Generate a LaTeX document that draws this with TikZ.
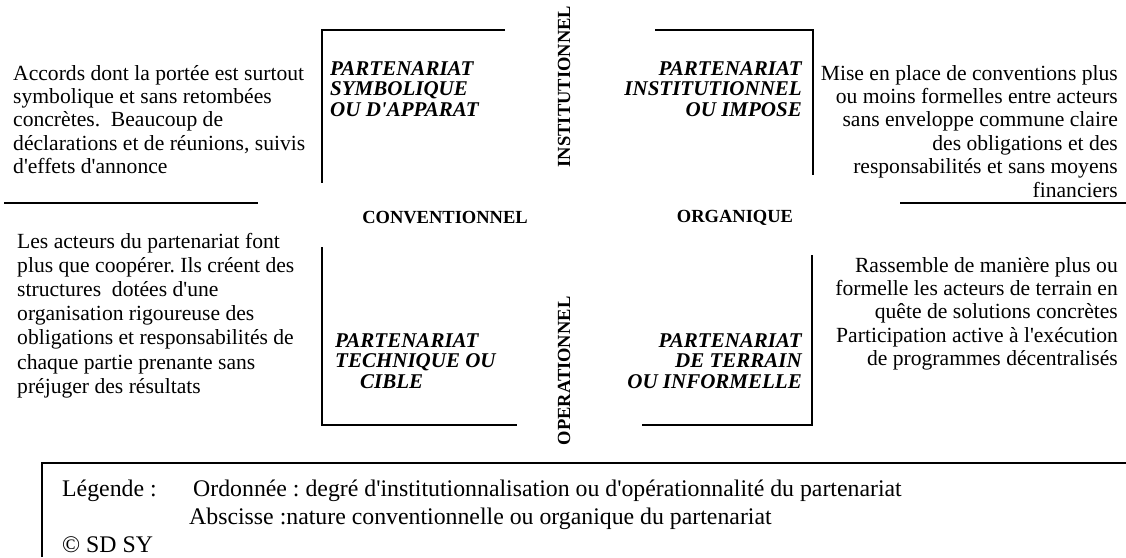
\documentclass[tikz,border=0pt]{standalone}
\usepackage{fontspec}
\setmainfont{Liberation Serif}[Ligatures=TeXOff]
\frenchspacing
\begin{document}
\begin{tikzpicture}[x=1pt,y=-1pt,
  rule/.style={line width=1.6pt},
  desc/.style={inner sep=0pt, font=\fontsize{21.6}{23.4}\selectfont},
  desctall/.style={inner sep=0pt, font=\fontsize{21.6}{24.2}\selectfont},
  kind/.style={inner sep=0pt, font=\fontsize{21}{20.5}\selectfont\bfseries\itshape},
  axislabel/.style={inner sep=0pt, font=\fontsize{18.5}{20}\selectfont\bfseries},
  legendtext/.style={inner sep=0pt, anchor=base west, font=\fontsize{23.8}{28}\selectfont}]
\useasboundingbox (0,0) rectangle (1126,557);

% quadrant brackets
\draw[rule] (505,30) -- (322,30) -- (322,183);
\draw[rule] (655,30) -- (813,30) -- (813,175);
\draw[rule] (322,247) -- (322,425) -- (517,425);
\draw[rule] (812,255) -- (812,425) -- (642,425);

% horizontal axis pieces
\draw[rule] (4,203) -- (258,203);
\draw[rule] (900,203) -- (1126,203);

% axis labels
\node[axislabel, rotate=90] (inst) at (564,86.5) {INSTITUTIONNEL};
\node[axislabel, rotate=90] (oper) at (564,371) {OPERATIONNEL};
\node[axislabel] (conv) at (445,218) {CONVENTIONNEL};
\node[axislabel] (orga) at (735,218) {ORGANIQUE};

% quadrant titles
\node[kind, anchor=base west] (symb) at (330,75)
  {\begin{tabular}[t]{@{}l@{}}PARTENARIAT\\SYMBOLIQUE\\OU D'APPARAT\end{tabular}};
\node[kind, anchor=base east] (inst2) at (802,75)
  {\begin{tabular}[t]{@{}r@{}}PARTENARIAT\\INSTITUTIONNEL\\OU IMPOSE\end{tabular}};
\node[kind, anchor=base west] (tech) at (335,347)
  {\begin{tabular}[t]{@{}l@{}}PARTENARIAT\\TECHNIQUE OU\\\hspace{25pt}CIBLE\end{tabular}};
\node[kind, anchor=base east] (terr) at (802,347)
  {\begin{tabular}[t]{@{}r@{}}PARTENARIAT\\DE TERRAIN\\OU INFORMELLE\end{tabular}};

% descriptions
\node[desc, anchor=base west] (dsymb) at (13,80)
  {\begin{tabular}[t]{@{}l@{}}Accords dont la portée est surtout\\symbolique et sans retombées\\concrètes.~ Beaucoup de\\déclarations et de réunions, suivis\\d'effets d'annonce\end{tabular}};
\node[desc, anchor=base east] (dinst) at (1118,80)
  {\begin{tabular}[t]{@{}r@{}}Mise en place de conventions plus\\ou moins formelles entre acteurs\\sans enveloppe commune claire\\des obligations et des\\responsabilités et sans moyens\\financiers\end{tabular}};
\node[desctall, anchor=base west] (dtech) at (17,248)
  {\begin{tabular}[t]{@{}l@{}}Les acteurs du partenariat font\\plus que coopérer. Ils créent des\\structures~ dotées d'une\\organisation rigoureuse des\\obligations et responsabilités de\\chaque partie prenante sans\\préjuger des résultats\end{tabular}};
\node[desc, anchor=base east] (dterr) at (1118,272)
  {\begin{tabular}[t]{@{}r@{}}Rassemble de manière plus ou\\formelle les acteurs de terrain en\\quête de solutions concrètes\\Participation active à l'exécution\\de programmes décentralisés\end{tabular}};

% legend box
\draw[rule] (42,557) -- (42,463) -- (1126,463);
\node[legendtext] (lkey) at (62,496) {Légende :};
\node[legendtext] (lord) at (193,496) {Ordonnée : degré d'institutionnalisation ou d'opérationnalité du partenariat};
\node[legendtext] (labs) at (189,524) {Abscisse :nature conventionnelle ou organique du partenariat};
\node[legendtext] (lcopy) at (62,552) {© SD SY};
\end{tikzpicture}
\end{document}
